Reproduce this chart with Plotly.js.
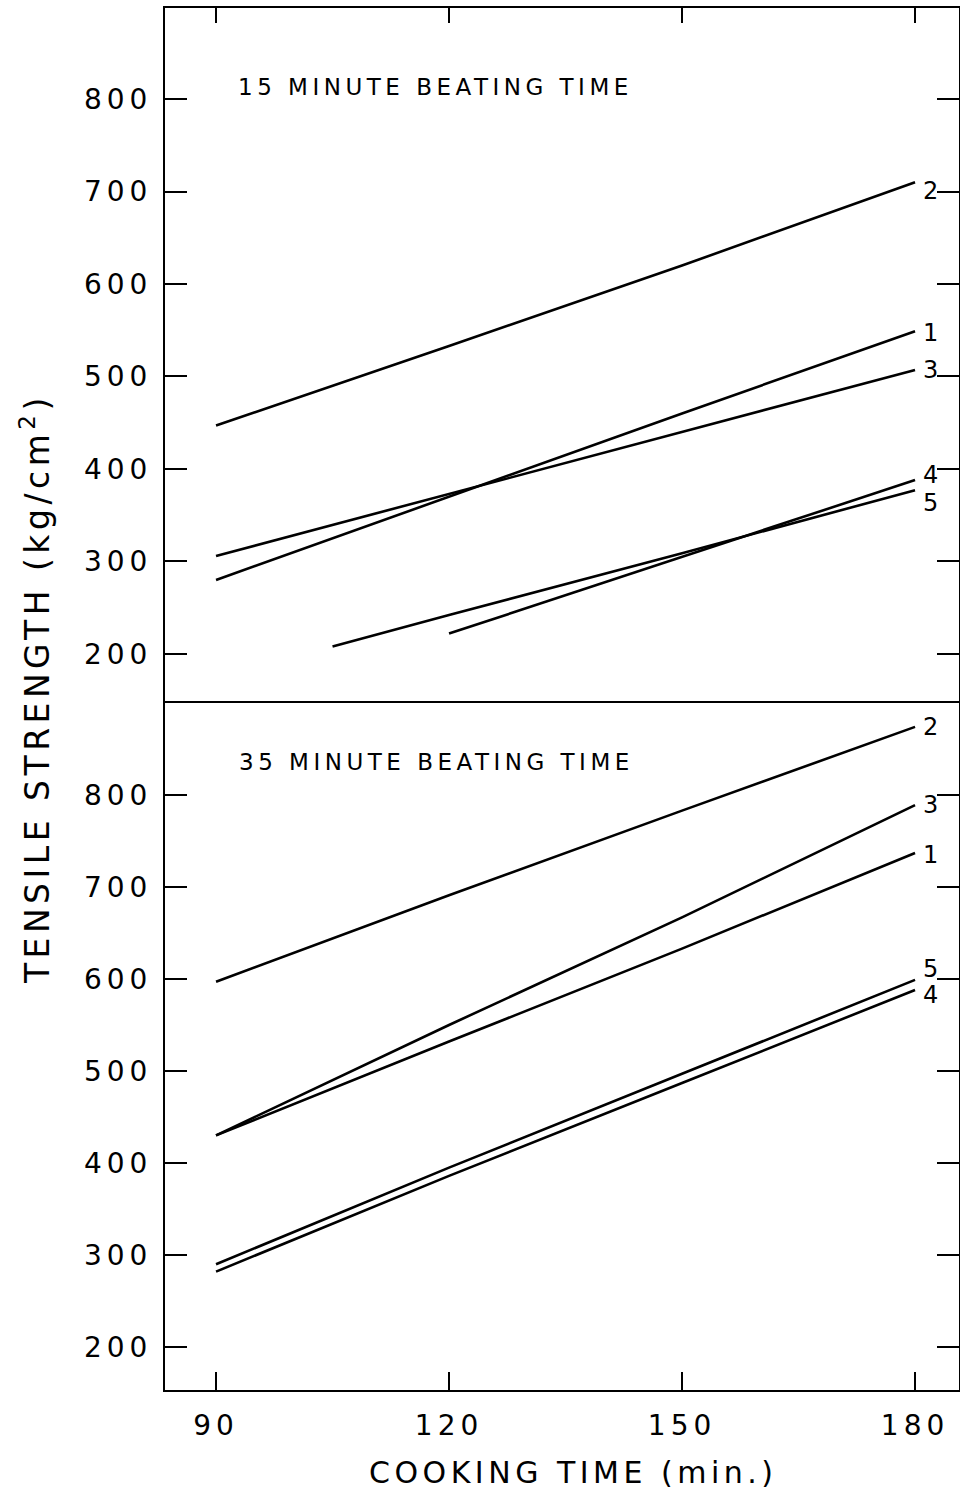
<!DOCTYPE html>
<html>
<head>
<meta charset="utf-8">
<script src="https://cdn.plot.ly/plotly-3.0.1.min.js"></script>
<style>
  html, body { margin: 0; padding: 0; background: #fff; }
  #chart { width: 960px; height: 1494px; }
  /* wide, evenly spaced lettering for all labels */
  .xtick text, .ytick text, .y2tick text { letter-spacing: 5px; }
  .annotation-text { letter-spacing: 4.5px; }
</style>
</head>
<body>
<div id="chart"></div>
<script>
// Cooking time (min) at which each curve is tabulated
const cookTime = [90, 120, 150, 180];
const cookTime15_4 = [120, 150, 180];
const cookTime15_5 = [105, 120, 150, 180];

// Tensile strength (kg/cm²), 15 minute beating time
const beat15_1 = [280, 370, 460, 549];
const beat15_2 = [447, 533, 620, 710];
const beat15_3 = [306, 373, 440, 507];
const beat15_4 = [222, 305, 388];
const beat15_5 = [208, 242, 309, 377];

// Tensile strength (kg/cm²), 35 minute beating time
const beat35_1 = [430, 532, 633, 737];
const beat35_2 = [597, 691, 783, 874];
const beat35_3 = [430, 550, 667, 789];
const beat35_4 = [282, 386, 487, 588];
const beat35_5 = [290, 395, 497, 599];

const curveNames = ['1', '2', '3', '4', '5'];
const xTickVals = [90, 120, 150, 180];
const yTickVals = [200, 300, 400, 500, 600, 700, 800];

const panelTitle15 = '15 MINUTE BEATING TIME';
const panelTitle35 = '35 MINUTE BEATING TIME';
const xTitle = 'COOKING TIME (min.)';
const yTitle = 'TENSILE STRENGTH (kg/cm<sup>2</sup>)';

const FONT = 'DejaVu Sans, sans-serif';
const INK = '#000';

const series15 = [
  { x: cookTime, y: beat15_1 },
  { x: cookTime, y: beat15_2 },
  { x: cookTime, y: beat15_3 },
  { x: cookTime15_4, y: beat15_4 },
  { x: cookTime15_5, y: beat15_5 }
];
const series35 = [
  { x: cookTime, y: beat35_1 },
  { x: cookTime, y: beat35_2 },
  { x: cookTime, y: beat35_3 },
  { x: cookTime, y: beat35_4 },
  { x: cookTime, y: beat35_5 }
];

// vertical nudges (px) for the curve numbers at the right-hand end
const shift15 = [-2, -9, 0, 5, -13];
const shift35 = [-2, 0, 0, -5, 11];

const traces = [];
const annotations = [];

function addPanel(list, xa, ya, shifts) {
  list.forEach((s, i) => {
    traces.push({
      x: s.x, y: s.y, xaxis: xa, yaxis: ya, type: 'scatter', mode: 'lines',
      line: { color: INK, width: 2.6 }, showlegend: false, hoverinfo: 'skip'
    });
    annotations.push({
      xref: xa, yref: ya, x: s.x[s.x.length - 1], y: s.y[s.y.length - 1],
      text: curveNames[i], showarrow: false, xanchor: 'left', yanchor: 'middle',
      xshift: 6, yshift: shifts[i], font: { family: FONT, size: 24, color: INK }
    });
  });
}
addPanel(series15, 'x2', 'y2', shift15);
addPanel(series35, 'x', 'y', shift35);

// panel captions
annotations.push({
  xref: 'x2', yref: 'y2', x: 118.3, y: 813, text: panelTitle15, showarrow: false,
  xanchor: 'center', yanchor: 'middle', font: { family: FONT, size: 23, color: INK }
});
annotations.push({
  xref: 'x', yref: 'y', x: 118.4, y: 836, text: panelTitle35, showarrow: false,
  xanchor: 'center', yanchor: 'middle', font: { family: FONT, size: 23, color: INK }
});
// shared axis titles
annotations.push({
  xref: 'paper', yref: 'paper', x: -0.1637, y: 0.5072, text: yTitle, textangle: -90,
  showarrow: false, xanchor: 'center', yanchor: 'middle',
  font: { family: FONT, size: 33, color: INK }
});
annotations.push({
  xref: 'paper', yref: 'paper', x: 0.5139, y: -0.06, text: xTitle, showarrow: false,
  xanchor: 'center', yanchor: 'middle', font: { family: FONT, size: 30, color: INK }
});

const SPLIT = 0.4986;
const X_RANGE = [83.43, 185.66];

const baseY = {
  tickmode: 'array', tickvals: yTickVals, ticks: 'inside', ticklen: 22, tickwidth: 2,
  tickcolor: INK, showline: true, linewidth: 2, linecolor: INK, mirror: 'ticks',
  showgrid: false, zeroline: false, ticklabelstandoff: 5,
  tickfont: { family: FONT, size: 28, color: INK }
};

const layout = {
  width: 960, height: 1494,
  margin: { l: 165, r: 1, t: 8, b: 104 },
  paper_bgcolor: '#fff', plot_bgcolor: '#fff',
  font: { family: FONT, color: INK },
  xaxis: {
    domain: [0, 1], anchor: 'y', range: X_RANGE,
    tickmode: 'array', tickvals: xTickVals, ticks: 'inside', ticklen: 18, tickwidth: 2,
    tickcolor: INK, showline: true, linewidth: 2, linecolor: INK, mirror: false,
    showgrid: false, zeroline: false, ticklabelstandoff: 9,
    tickfont: { family: FONT, size: 28, color: INK }
  },
  xaxis2: {
    domain: [0, 1], anchor: 'y2', matches: 'x', range: X_RANGE, side: 'top',
    tickmode: 'array', tickvals: xTickVals, ticks: 'inside', ticklen: 15, tickwidth: 2,
    tickcolor: INK, showline: true, linewidth: 2, linecolor: INK, mirror: true,
    showgrid: false, zeroline: false, showticklabels: false
  },
  yaxis: Object.assign({}, baseY, { domain: [0, SPLIT], anchor: 'x', range: [153.3, 902.2] }),
  yaxis2: Object.assign({}, baseY, { domain: [SPLIT, 1], anchor: 'x2', range: [149.2, 898.4] }),
  annotations: annotations
};

Plotly.newPlot('chart', traces, layout, { displayModeBar: false, staticPlot: true });
</script>
</body>
</html>
